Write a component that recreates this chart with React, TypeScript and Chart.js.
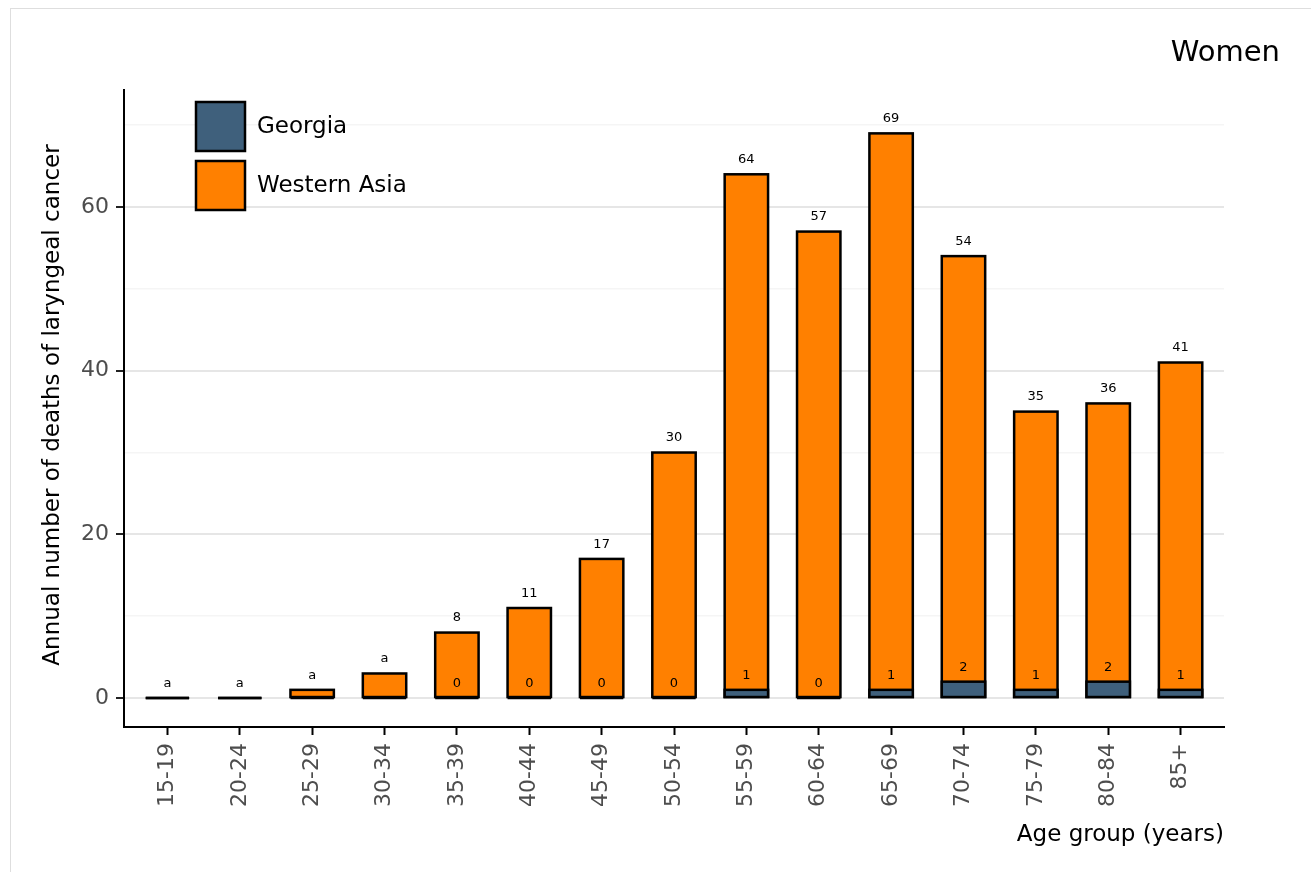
import React, { useEffect, useRef } from "react";
import { Chart, registerables } from "chart.js";

Chart.register(...registerables);

const ageGroups = ["15-19", "20-24", "25-29", "30-34", "35-39", "40-44", "45-49", "50-54", "55-59", "60-64", "65-69", "70-74", "75-79", "80-84", "85+"];
const westernAsia = [0, 0, 1, 3, 8, 11, 17, 30, 64, 57, 69, 54, 35, 36, 41];
const georgia = [0, 0, 0, 0, 0, 0, 0, 0, 1, 0, 1, 2, 1, 2, 1];
const westernAsiaLabels = ["a", "a", "a", "a", "8", "11", "17", "30", "64", "57", "69", "54", "35", "36", "41"];
const georgiaLabels = ["", "", "", "", "0", "0", "0", "0", "1", "0", "1", "2", "1", "2", "1"];
const yTicks = [0, 10, 20, 30, 40, 50, 60, 70];
const yLabelTicks = [0, 20, 40, 60];

const GEORGIA_COLOR = "#3f607c";
const WA_COLOR = "#ff8000";
const FONT = "'DejaVu Sans', sans-serif";

// Strokes each bar centred on its edges (like the reference) after the dataset is filled.
const barOutlinePlugin = {
  id: "barOutline",
  afterDatasetDraw(chart: any, args: any) {
    const { ctx } = chart;
    ctx.save();
    ctx.lineWidth = 2.5;
    ctx.strokeStyle = "#000";
    args.meta.data.forEach((el: any) => {
      const { x, y, base, width } = el.getProps(["x", "y", "base", "width"], true);
      ctx.strokeRect(x - width / 2, Math.min(y, base), width, Math.abs(base - y));
    });
    ctx.restore();
  },
};

const textPlugin = {
  id: "textPlugin",
  afterDatasetsDraw(chart: any) {
    const { ctx } = chart;
    const xs = chart.scales.x;
    const ys = chart.scales.y;
    ctx.save();
    ctx.font = `13px ${FONT}`;
    ctx.fillStyle = "#000";
    ctx.textAlign = "center";
    ctx.textBaseline = "middle";
    for (let i = 0; i < ageGroups.length; i++) {
      const x = xs.getPixelForValue(i);
      ctx.fillText(westernAsiaLabels[i], x, ys.getPixelForValue(westernAsia[i]) - 14.5);
      if (georgiaLabels[i]) {
        ctx.fillText(georgiaLabels[i], x, ys.getPixelForValue(georgia[i]) - 14.5);
      }
    }
    ctx.restore();
  },
  afterDraw(chart: any) {
    const { ctx, chartArea } = chart;
    ctx.save();
    const items = [
      { label: "Georgia", color: GEORGIA_COLOR },
      { label: "Western Asia", color: WA_COLOR },
    ];
    const lx = chartArea.left + 72;
    let ly = chartArea.top + 12;
    items.forEach((it) => {
      ctx.fillStyle = it.color;
      ctx.fillRect(lx, ly, 49, 49);
      ctx.lineWidth = 2.5;
      ctx.strokeStyle = "#000";
      ctx.strokeRect(lx, ly, 49, 49);
      ctx.fillStyle = "#000";
      ctx.font = `23px ${FONT}`;
      ctx.textAlign = "left";
      ctx.textBaseline = "middle";
      ctx.fillText(it.label, lx + 61, ly + 25);
      ly += 59;
    });
    ctx.font = `23px ${FONT}`;
    ctx.fillStyle = "#000";
    ctx.textAlign = "right";
    ctx.textBaseline = "middle";
    ctx.fillText("Age group (years)", chartArea.right, 835);
    ctx.save();
    ctx.translate(53, 405);
    ctx.rotate(-Math.PI / 2);
    ctx.textAlign = "center";
    ctx.fillText("Annual number of deaths of laryngeal cancer", 0, 0);
    ctx.restore();
    ctx.font = `29px ${FONT}`;
    ctx.textAlign = "right";
    ctx.fillText("Women", 1280, 53);
    ctx.restore();
  },
};

export default function App() {
  const ref = useRef<HTMLCanvasElement | null>(null);
  useEffect(() => {
    if (!ref.current) return;
    const chart = new Chart(ref.current, {
      type: "bar",
      data: {
        datasets: [
          {
            label: "Georgia",
            data: georgia.map((v, i) => ({ x: i, y: v })),
            backgroundColor: GEORGIA_COLOR,
            borderWidth: 0,
            barThickness: 43.4,
            inflateAmount: 0,
            grouped: false,
          } as any,
          {
            label: "Western Asia",
            data: westernAsia.map((v, i) => ({ x: i, y: v })),
            backgroundColor: WA_COLOR,
            borderWidth: 0,
            barThickness: 43.4,
            inflateAmount: 0,
            grouped: false,
          } as any,
        ],
      },
      options: {
        responsive: false,
        devicePixelRatio: 1,
        animation: false,
        layout: { padding: { top: 90, right: 87, left: 0, bottom: 0 } },
        plugins: { legend: { display: false }, tooltip: { enabled: false }, title: { display: false } },
        scales: {
          x: {
            type: "linear",
            min: -0.6,
            max: 14.6,
            offset: false,
            afterBuildTicks: (scale: any) => {
              scale.ticks = ageGroups.map((_, i) => ({ value: i }));
            },
            afterFit: (scale: any) => {
              scale.height = 145;
            },
            ticks: {
              autoSkip: false,
              maxRotation: 90,
              minRotation: 90,
              padding: 8,
              color: "#4d4d4d",
              font: { family: FONT, size: 22 },
              callback: (v: any) => ageGroups[Math.round(Number(v))] ?? "",
            },
            grid: {
              drawOnChartArea: false,
              drawTicks: true,
              tickLength: 8,
              tickColor: "#000",
              tickWidth: 2,
              offset: false,
            },
            border: { display: true, color: "#000", width: 2 },
          },
          y: {
            type: "linear",
            min: -3.54,
            max: 74.3,
            afterBuildTicks: (scale: any) => {
              scale.ticks = yTicks.map((v) => ({ value: v }));
            },
            afterFit: (scale: any) => {
              scale.width = 124;
            },
            ticks: {
              padding: 7,
              color: "#4d4d4d",
              font: { family: FONT, size: 22 },
              callback: (v: any) => (yLabelTicks.includes(Number(v)) ? String(v) : ""),
            },
            grid: {
              color: (c: any) => (c.tick && yLabelTicks.includes(c.tick.value) ? "#e6e6e6" : "#f5f5f5"),
              lineWidth: (c: any) => (c.tick && yLabelTicks.includes(c.tick.value) ? 2 : 1.5),
              tickColor: (c: any) => (c.tick && yLabelTicks.includes(c.tick.value) ? "#222" : "rgba(0,0,0,0)"),
              tickWidth: 2,
              tickLength: 8,
              drawTicks: true,
            },
            border: { display: true, color: "#000", width: 2 },
          },
        },
      },
      plugins: [barOutlinePlugin, textPlugin],
    });
    return () => chart.destroy();
  }, []);

  return (
    <div style={{ position: "fixed", left: 0, top: 0, width: 1311, height: 872, background: "#fff" }}>
      <div
        style={{
          position: "absolute",
          left: 10,
          top: 8,
          right: -20,
          bottom: -20,
          border: "1px solid #dedede",
        }}
      />
      <canvas ref={ref} width={1311} height={872} style={{ position: "absolute", left: 0, top: 0, width: 1311, height: 872 }} />
    </div>
  );
}
